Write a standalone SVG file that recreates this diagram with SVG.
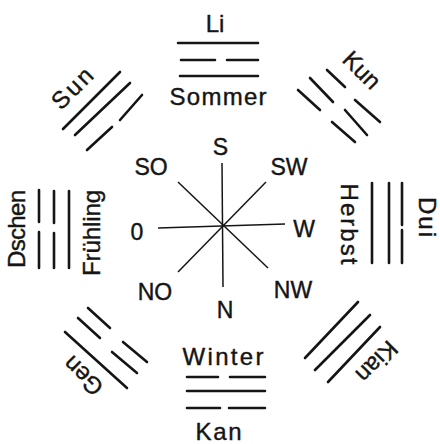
<svg xmlns="http://www.w3.org/2000/svg" width="440" height="444" viewBox="0 0 440 444">
<style>
.t{font-family:"Liberation Sans",Arial,sans-serif;font-size:24px;fill:#151515;stroke:#151515;stroke-width:0.4;text-anchor:middle}
.c{font-family:"Liberation Sans",Arial,sans-serif;font-size:23px;fill:#151515;stroke:#151515;stroke-width:0.4;text-anchor:middle}
.ln{stroke:#151515;stroke-width:2.6;stroke-linecap:round;fill:none}
.ray{stroke:#151515;stroke-width:1.5;fill:none}
</style>
<rect width="440" height="444" fill="#fff"/>
<g id="connectors">
<line class="ray" x1="222" y1="163" x2="223" y2="287"/>
<line class="ray" x1="158" y1="228" x2="285" y2="224"/>
<line class="ray" x1="178" y1="182" x2="268" y2="268"/>
<line class="ray" x1="266" y1="182" x2="178" y2="272"/>
</g>
<g id="compass-labels">
<text class="c" x="220.5" y="155">S</text>
<text class="c" x="151" y="175">SO</text>
<text class="c" x="289" y="175">SW</text>
<text class="c" x="137" y="240">0</text>
<text class="c" x="304" y="237">W</text>
<text class="c" x="155" y="300">NO</text>
<text class="c" x="225" y="318">N</text>
<text class="c" x="293" y="298">NW</text>
</g>
<g id="li">
<text class="t" x="215" y="32">Li</text>
<path class="ln" d="M178 43H258M181 60H215M227 60H258M180 76H258"/>
<text class="t" x="218" y="105" textLength="97" lengthAdjust="spacing">Sommer</text>
</g>
<g id="kun">
<path class="ln" d="M327 70L345 87M355 100L380 122M310 78L333 102M345 110L367 135M298 90L320 110M332 122L355 142"/>
<text class="t" transform="translate(361,71) rotate(45)" x="0" y="7">Kun</text>
</g>
<g id="dui">
<text class="t" transform="translate(349,224) rotate(90)" x="0" y="8.5" textLength="81" lengthAdjust="spacing">Herbst</text>
<path class="ln" d="M372 183V263M389 183V263M402 183V225M402 230V263"/>
<text class="t" transform="translate(427.5,217) rotate(90)" x="0" y="8.5" textLength="40" lengthAdjust="spacing">Dui</text>
</g>
<g id="kian">
<path class="ln" d="M305 358L358 302M315 370L370 315M328 382L380 327"/>
<text class="t" transform="translate(376,361) rotate(135)" x="0" y="7">Kian</text>
</g>
<g id="kan">
<text class="t" x="223" y="365" textLength="81" lengthAdjust="spacing">Winter</text>
<path class="ln" d="M187 377H218M230 377H265M187 391H265M187 408H220M229 408H265"/>
<text class="t" x="218.5" y="440" textLength="46" lengthAdjust="spacing">Kan</text>
</g>
<g id="gen">
<path class="ln" d="M88 308L110 328M123 342L147 362M78 318L100 338M112 352L137 373M65 332L127 388"/>
<text class="t" transform="translate(84,375) rotate(-135)" x="0" y="7">Gen</text>
</g>
<g id="dschen">
<text class="t" transform="translate(16.5,229) rotate(-90)" x="0" y="8.5" textLength="78" lengthAdjust="spacing">Dschen</text>
<path class="ln" d="M39 190V222M39 232V268M54 191V223M54 233V268M69 191V268"/>
<text class="t" transform="translate(93,233) rotate(-90)" x="0" y="7" textLength="86" lengthAdjust="spacing">Frühling</text>
</g>
<g id="sun">
<text class="t" transform="translate(73,89) rotate(-45)" x="0" y="7" textLength="48" lengthAdjust="spacing">Sun</text>
<path class="ln" d="M63 129L120 72M75 135L130 83M87 150L112 127M120 120L142 95"/>
</g>
</svg>
